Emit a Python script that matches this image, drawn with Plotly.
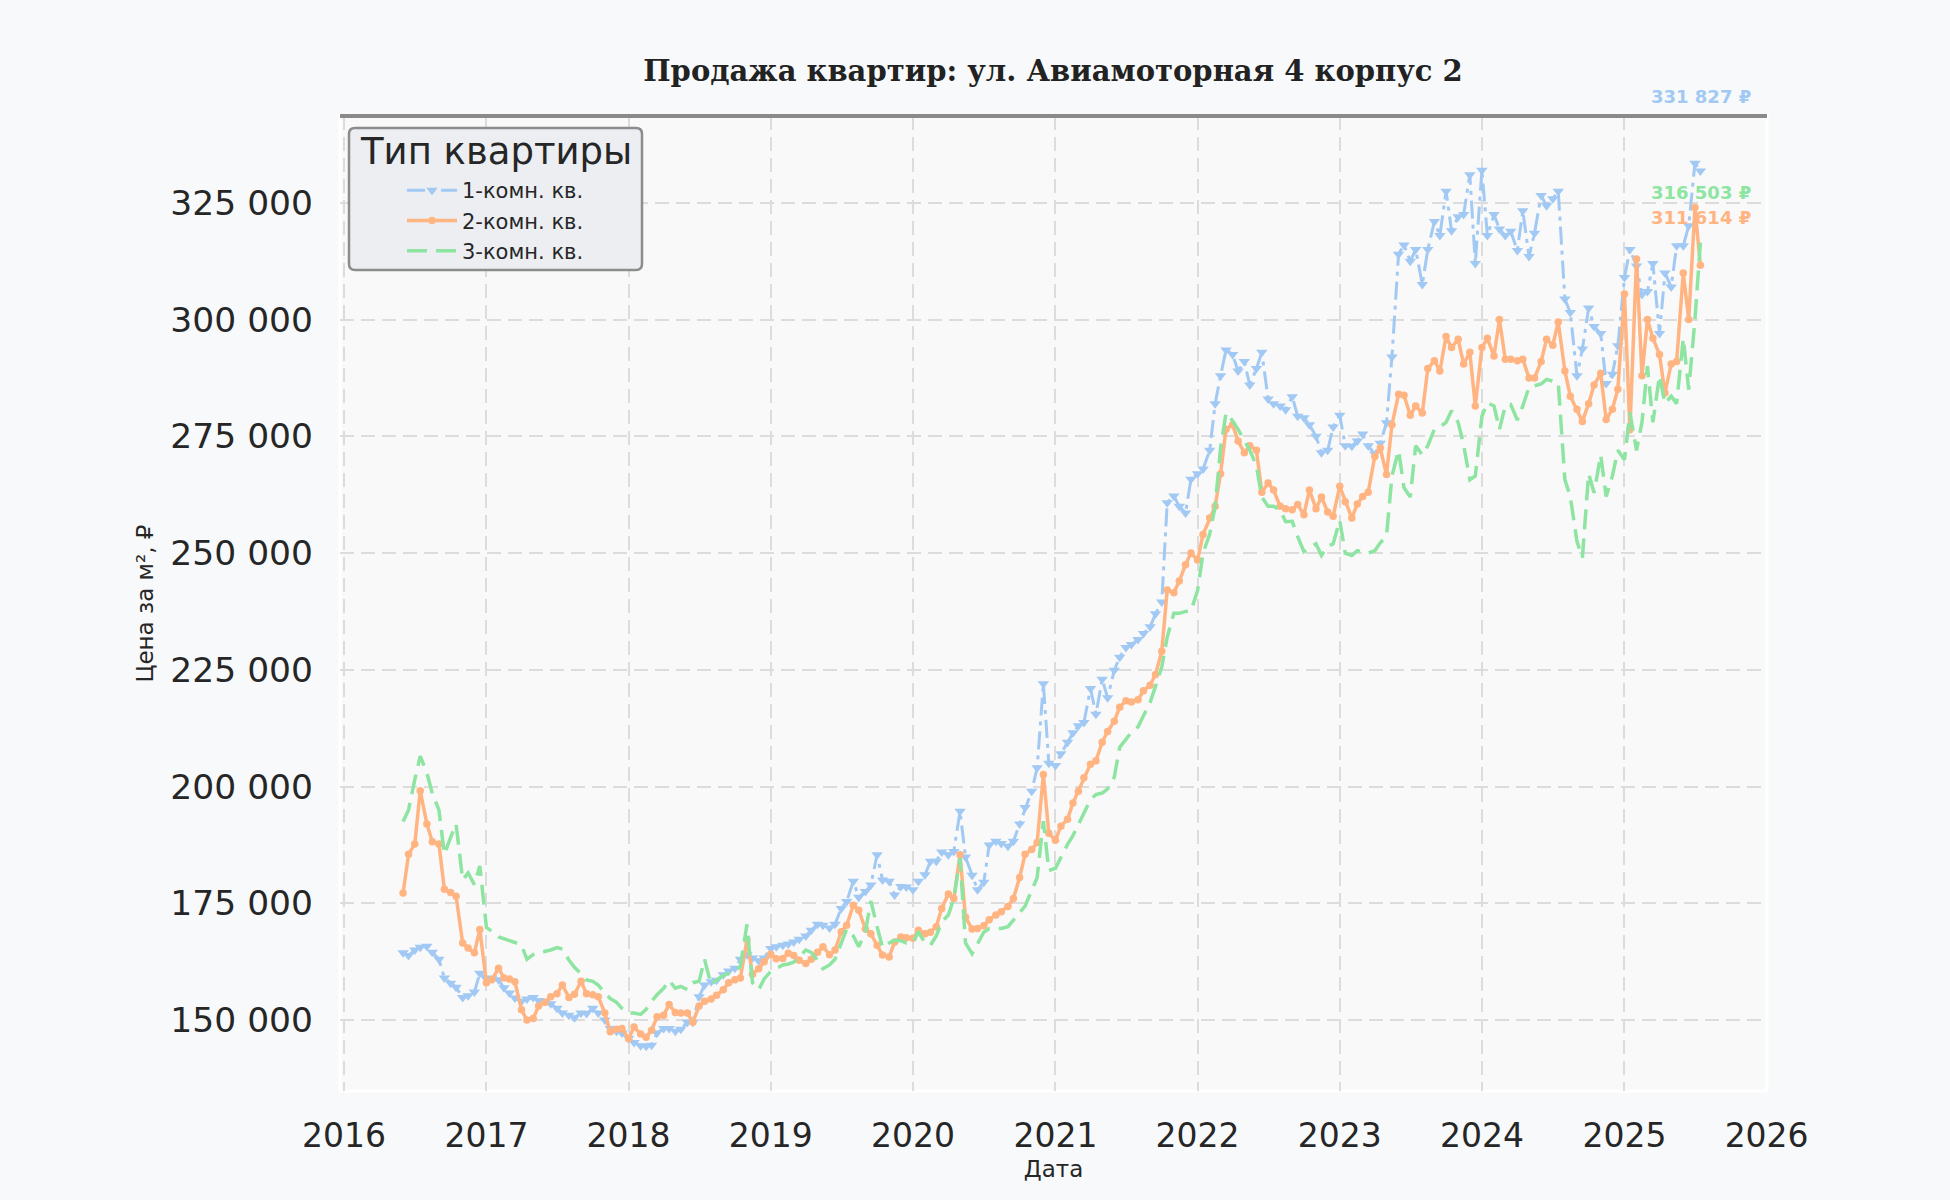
import pandas as pd
import plotly.graph_objects as go

# Semi-monthly observation dates (1st and 15th of each month), Jun 2016 - Jul 2025
dates = pd.date_range("2016-06-01", periods=220, freq="SMS")

# Price per m², thousand rubles
one_room_k = [
    164.4, 163.8, 165.0, 165.6, 165.8, 164.5, 163.0, 159.0, 157.9, 157.0,
    154.8, 155.2, 156.0, 160.0, 158.8, 159.0, 158.6, 156.9, 155.8, 154.7,
    154.0, 154.5, 154.8, 154.2, 154.0, 153.5, 152.5, 151.5, 151.0, 150.5,
    151.5, 151.4, 152.5, 151.5, 150.0, 148.2, 147.6, 147.2, 146.1, 145.2,
    144.5, 144.4, 144.6, 147.2, 148.2, 148.2, 147.6, 148.0, 149.5, 149.5,
    155.0, 157.5, 158.2, 158.5, 159.7, 160.5, 161.1, 163.0, 164.0, 163.3,
    162.7, 163.3, 165.3, 165.7, 166.0, 166.3, 166.7, 167.3, 168.0, 169.2,
    170.5, 170.3, 169.7, 170.5, 173.9, 175.4, 179.7, 176.3, 177.5, 178.9,
    185.4, 180.0, 179.7, 176.8, 178.6, 178.5, 177.9, 179.7, 181.1, 184.0,
    184.0, 186.0, 185.4, 186.1, 194.7, 184.9, 181.0, 177.9, 179.5, 187.5,
    188.3, 187.8, 187.2, 188.3, 192.0, 195.5, 199.0, 204.0, 222.0, 205.0,
    204.5, 207.0, 209.5, 211.5, 213.0, 213.7, 221.0, 215.5, 223.0, 219.0,
    224.9, 227.7, 229.8, 230.4, 231.5, 232.8, 234.2, 237.0, 239.5, 260.8,
    262.2, 260.0, 258.6, 265.8, 267.0, 268.0, 272.0, 282.0, 288.0, 293.5,
    292.5, 289.0, 291.0, 286.0, 289.5, 293.0, 283.0, 282.0, 281.5, 280.7,
    283.5, 279.3, 279.0, 277.5, 275.0, 271.5, 272.0, 277.0, 279.5, 273.0,
    272.9, 274.0, 275.5, 273.0, 271.2, 273.5, 277.9, 292.0, 314.0, 316.0,
    312.5, 315.0, 307.5, 315.0, 321.0, 318.0, 327.5, 319.0, 322.0, 322.5,
    331.0, 312.0, 332.0, 318.0, 322.5, 319.4, 318.0, 318.9, 314.8, 323.3,
    313.5, 318.5, 326.6, 324.4, 325.9, 327.5, 304.4, 301.5, 288.0, 293.7,
    302.5, 298.5, 297.0, 286.3, 288.3, 294.4, 309.0, 315.0, 311.5, 305.4,
    306.0, 312.0, 297.0, 310.0, 307.0, 315.8, 315.8, 320.1, 333.5, 331.827,
]

two_room_k = [
    177.2, 185.5, 187.7, 199.1, 192.0, 188.2, 187.7, 178.0, 177.3, 176.5,
    166.5, 165.4, 164.4, 169.4, 158.0, 158.6, 161.1, 159.0, 158.8, 158.2,
    152.2, 150.0, 150.3, 153.0, 153.8, 155.0, 155.6, 157.5, 154.8, 155.5,
    158.3, 155.6, 155.4, 155.0, 151.5, 147.5, 148.0, 148.2, 146.0, 148.5,
    147.0, 146.3, 147.8, 150.7, 151.0, 153.3, 151.6, 151.5, 151.5, 149.5,
    153.0, 154.0, 154.5, 155.3, 156.5, 158.0, 158.6, 159.0, 167.2, 159.8,
    161.0, 162.5, 164.1, 163.1, 163.2, 164.3, 163.8, 162.8, 162.1, 163.0,
    164.5, 165.7, 164.0, 165.0, 168.9, 170.3, 174.6, 173.5, 169.5, 168.5,
    166.0, 163.9, 163.5, 166.7, 167.8, 167.6, 167.5, 169.2, 168.5, 168.8,
    170.0, 173.9, 177.0, 176.0, 185.4, 172.0, 169.5, 169.6, 170.2, 171.5,
    172.5, 173.2, 174.3, 176.0, 180.5, 185.5, 186.5, 188.0, 202.6, 190.0,
    188.5, 191.5, 193.0, 196.5, 199.0, 201.9, 204.8, 205.5, 209.5, 211.8,
    214.0, 217.0, 218.4, 218.1, 218.6, 220.5, 221.7, 224.0, 229.0, 242.1,
    241.5, 244.0, 247.5, 250.0, 248.5, 254.0, 257.5, 260.0, 267.0, 276.5,
    277.5, 274.0, 271.5, 273.0, 272.0, 263.0, 265.0, 263.5, 260.0, 259.5,
    259.3, 260.4, 258.2, 263.5, 259.5, 262.0, 258.8, 257.9, 264.3, 261.0,
    257.5, 260.5, 262.1, 263.0, 270.7, 272.5, 266.8, 277.5, 284.0, 283.8,
    279.5, 281.5, 280.0, 289.5, 291.2, 289.0, 296.4, 294.0, 295.8, 290.5,
    293.0, 281.5, 294.0, 296.0, 292.2, 300.0, 291.5, 291.5, 291.2, 291.5,
    287.5, 287.5, 291.0, 295.8, 294.5, 299.5, 289.0, 283.6, 280.8, 278.2,
    282.0, 286.0, 288.5, 278.6, 280.8, 285.1, 305.5, 276.4, 313.0, 288.0,
    300.0, 296.0, 292.5, 284.3, 290.5, 291.0, 310.0, 300.0, 324.0, 311.614,
]

three_room_k = [
    192.5, 195.0, 201.5, 206.5, 203.0, 198.5, 195.0, 185.5, 189.1, 192.0,
    180.0, 181.5, 179.0, 183.0, 169.8, 169.0, 167.8, 167.3, 167.0, 166.6,
    166.0, 163.0, 164.0, 164.4, 164.7, 165.0, 165.5, 165.2, 162.8, 161.3,
    159.9, 158.6, 158.3, 157.5, 155.8, 154.6, 153.8, 152.5, 151.5, 151.5,
    151.2, 152.3, 154.0, 155.4, 156.8, 158.5, 156.8, 157.2, 156.5, 158.0,
    158.3, 163.0, 157.5, 158.6, 159.5, 160.0, 160.3, 161.5, 170.5, 158.0,
    156.5, 158.8, 160.4, 161.0, 161.8, 162.0, 162.4, 163.5, 165.0, 164.5,
    162.8, 161.0, 161.8, 163.0, 166.7, 169.5, 168.0, 165.7, 168.9, 175.5,
    170.0, 165.5, 166.5, 167.1, 167.0, 166.5, 166.5, 168.9, 166.5, 166.0,
    168.0, 171.0, 172.5, 176.0, 184.7, 166.5, 164.2, 166.5, 168.8, 169.6,
    169.6, 169.6, 170.0, 171.5, 173.0, 174.4, 177.5, 180.5, 192.6, 182.0,
    182.5, 185.0, 187.6, 189.5, 191.8, 194.2, 197.2, 198.3, 198.6, 199.5,
    202.0, 208.4, 210.2, 211.6, 212.8, 215.0, 218.0, 221.5, 225.6, 232.0,
    237.1, 237.1, 237.5, 237.6, 242.0, 250.0, 254.0, 260.0, 272.5, 280.0,
    278.3, 276.5, 274.0, 272.0, 268.7, 262.0, 260.0, 260.0, 259.3, 256.7,
    256.8, 253.5, 250.3, 251.0, 252.0, 249.5, 251.4, 252.0, 257.0, 250.0,
    249.5, 250.5, 250.3, 250.0, 250.5, 252.2, 253.6, 266.5, 272.0, 264.0,
    262.0, 273.0, 271.0, 273.0, 276.5, 277.0, 278.0, 280.5, 278.0, 273.2,
    265.7, 266.5, 279.3, 282.2, 281.5, 276.5, 281.5, 281.8, 278.5, 281.5,
    285.5, 285.8, 286.2, 287.2, 286.8, 286.5, 265.7, 262.1, 252.5, 249.0,
    267.0, 262.9, 271.0, 262.1, 266.5, 272.0, 270.0, 280.1, 272.0, 278.0,
    290.0, 278.0, 288.0, 282.0, 283.6, 282.0, 296.0, 285.0, 300.0, 316.503,
]

series_names = ["1-комн. кв.", "2-комн. кв.", "3-комн. кв."]
series_values = [one_room_k, two_room_k, three_room_k]
colors = ["#a1c9f4", "#ffb482", "#8de5a1"]
label_shift = [74, 48, 50]

y_ticks = [150000, 175000, 200000, 225000, 250000, 275000, 300000, 325000]

FONT = "DejaVu Sans"
TEXT = "#262626"

W, H = 1950, 1200
ML, MR, MT, MB = 340, 183, 116, 109
PW, PH = W - ML - MR, H - MT - MB


def px(x):  # pixel -> paper x
    return (x - ML) / PW


def py(y):  # pixel -> paper y
    return 1 - (y - MT) / PH


fig = go.Figure()

styles = [
    dict(mode="lines+markers",
         line=dict(width=3, dash="18px,6px,4px,6px"),
         marker=dict(symbol="triangle-down", size=10)),
    dict(mode="lines+markers",
         line=dict(width=3.5, dash="solid"),
         marker=dict(symbol="circle", size=7.5)),
    dict(mode="lines",
         line=dict(width=3.5, dash="20px,9px")),
]

for name, vals, col, st in zip(series_names, series_values, colors, styles):
    y = [round(v * 1000) for v in vals]
    line = dict(st["line"], color=col)
    kw = dict(x=dates, y=y, name=name, mode=st["mode"], line=line)
    if "marker" in st:
        kw["marker"] = dict(st["marker"], color=col)
    fig.add_trace(go.Scatter(**kw))

# last-value labels
for vals, col, shift in zip(series_values, colors, label_shift):
    last = round(vals[-1] * 1000)
    txt = f"{last:,}".replace(",", " ") + " ₽"
    fig.add_annotation(x=0.99, xref="paper", xanchor="right",
                       y=last, yref="y", yshift=shift, yanchor="middle",
                       text=f"<b>{txt}</b>", showarrow=False,
                       font=dict(family=FONT, size=18, color=col))

# plot-area edges: white frame, gray top line
fig.add_shape(type="rect", xref="paper", yref="paper", x0=0, x1=1, y0=0, y1=1,
              line=dict(color="white", width=3), layer="below")
fig.add_shape(type="line", xref="paper", yref="paper", x0=0, x1=1, y0=1, y1=1,
              line=dict(color="#8a8a8a", width=4), layer="above")

# legend frame (rounded box) + title
bx0, bx1, by0, by1, r = 349, 642, 128, 270, 6
path = (f"M {px(bx0 + r)},{py(by0)} L {px(bx1 - r)},{py(by0)} "
        f"Q {px(bx1)},{py(by0)} {px(bx1)},{py(by0 + r)} "
        f"L {px(bx1)},{py(by1 - r)} Q {px(bx1)},{py(by1)} {px(bx1 - r)},{py(by1)} "
        f"L {px(bx0 + r)},{py(by1)} Q {px(bx0)},{py(by1)} {px(bx0)},{py(by1 - r)} "
        f"L {px(bx0)},{py(by0 + r)} Q {px(bx0)},{py(by0)} {px(bx0 + r)},{py(by0)} Z")
fig.add_shape(type="path", xref="paper", yref="paper", path=path,
              fillcolor="#eceef2", line=dict(color="#8c8c8c", width=2.5),
              layer="above")
fig.add_annotation(x=px((bx0 + bx1) / 2), y=py(151), xref="paper", yref="paper",
                   xanchor="center", yanchor="middle", showarrow=False,
                   text="Тип квартиры",
                   font=dict(family=FONT, size=37, color=TEXT))

fig.update_layout(
    width=W, height=H,
    margin=dict(l=ML, r=MR, t=MT, b=MB),
    paper_bgcolor="#f8f9fa",
    plot_bgcolor="#f9f9f9",
    separators=". ",
    font=dict(family=FONT, color=TEXT),
    title=dict(text="<b>Продажа квартир: ул. Авиамоторная 4 корпус 2</b>",
               x=0.54, xanchor="center", y=1 - 71 / 1200, yanchor="middle",
               font=dict(family="DejaVu Serif", size=29, color="#222222")),
    showlegend=True,
    legend=dict(x=px(402), y=py(170), xanchor="left", yanchor="top",
                bgcolor="rgba(0,0,0,0)", borderwidth=0,
                font=dict(family=FONT, size=21, color=TEXT),
                itemwidth=50, tracegroupgap=0),
    xaxis=dict(type="date", range=["2015-12-22", "2026-01-02"],
               dtick="M12", tick0="2016-01-01", tickformat="%Y",
               showgrid=True, gridcolor="#dcdcdc", gridwidth=2, griddash="14px,7px",
               zeroline=False, showline=False, ticks="",
               ticklabelstandoff=22,
               tickfont=dict(family=FONT, size=33, color=TEXT),
               title=dict(text="Дата", standoff=6,
                          font=dict(family=FONT, size=23, color=TEXT))),
    yaxis=dict(range=[134800, 343600], tickvals=y_ticks, tickformat=",d",
               showgrid=True, gridcolor="#dcdcdc", gridwidth=2, griddash="14px,7px",
               zeroline=False, showline=False, ticks="",
               ticklabelstandoff=26,
               tickfont=dict(family=FONT, size=34.5, color=TEXT),
               title=dict(text="Цена за м², ₽", standoff=10,
                          font=dict(family=FONT, size=23, color=TEXT))),
)

fig.write_html("out.html",
               config={"displayModeBar": False},
               post_script="document.body.style.margin='0';"
                           "document.body.style.background='#f8f9fa';")
